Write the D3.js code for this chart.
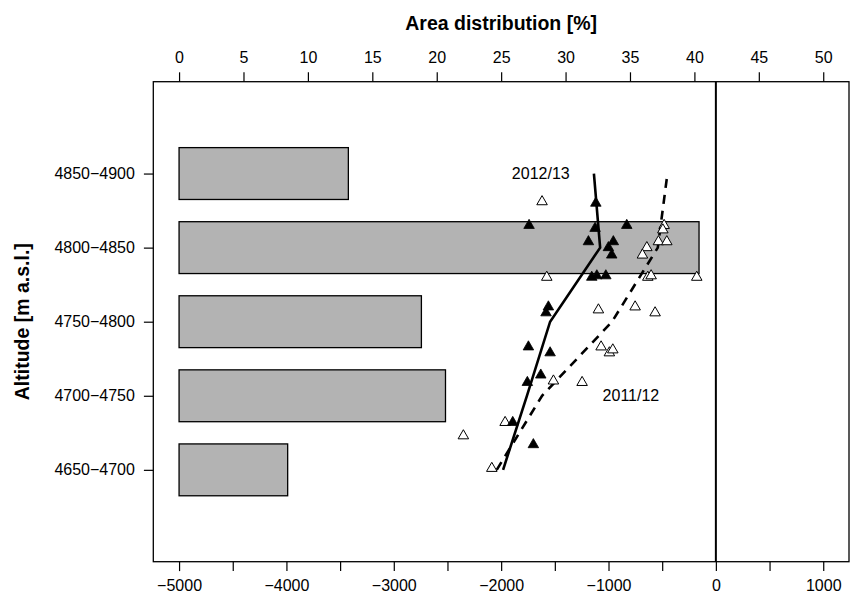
<!DOCTYPE html>
<html>
<head>
<meta charset="utf-8">
<script src="https://cdn.jsdelivr.net/npm/d3@7"></script>
<style>
  html, body { margin: 0; padding: 0; background: #fff; }
  svg { display: block; font-family: "Liberation Sans", Arial, sans-serif; }
</style>
</head>
<body>
<svg id="chart" width="851" height="603"></svg>
<script>
// ---------- data ----------
const bandLabels  = ["4650\u22124700", "4700\u22124750", "4750\u22124800", "4800\u22124850", "4850\u22124900"];
const bandCenters = [4675, 4725, 4775, 4825, 4875];
const areaPct     = [8.43, 20.68, 18.81, 40.36, 13.14];

const pctTicks = [0, 5, 10, 15, 20, 25, 30, 35, 40, 45, 50];
const mbTicks  = [-5000, -4500, -4000, -3500, -3000, -2500, -2000, -1500, -1000, -500, 0, 500, 1000];

// 2012/13 point balances (filled triangles)
const mb1213 = [-1118, -1740, -1125, -830, -1187, -955, -1001, -970, -1156, -1109, -1025,
                -1560, -1582, -1746, -1544, -1631, -1756, -1892, -1700];
const alt1213 = [4855, 4840, 4838, 4840, 4829, 4829, 4825, 4820, 4805, 4806, 4806,
                 4785, 4781, 4758, 4754, 4739, 4734, 4707, 4692];
// 2011/12 point balances (open triangles)
const mb1112 = [-1619, -1575, -482, -494, -535, -457, -643, -684, -634, -603, -178,
                -752, -1094, -566, -1069, -992, -960, -1513, -1246, -1963, -2352, -2087];
const alt1112 = [4856, 4805, 4840, 4837, 4829, 4829, 4825, 4820, 4805, 4806, 4805,
                 4785, 4783, 4781, 4758, 4754, 4756, 4735, 4734, 4707, 4698, 4676];

// band-mean balance profiles
const profile1213 = [-1982, -1760, -1544, -1078, -1136];
const profile1112 = [-2041, -1619, -967, -541, -451];

// ---------- layout ----------
const L = 153.3, R = 849, T = 81.7, B = 561.7;
const svg = d3.select("#chart");

const xPct = d3.scaleLinear().domain([-2, 52]).range([L, R]);
const xMb  = d3.scaleLinear().domain([-5240, 1240]).range([L, R]);
const y    = d3.scaleLinear().domain([4613, 4937]).range([B, T]);
const bandH = y(4600) - y(4635); // 0.7 of a 50 m band

// bars
svg.append("g").selectAll("rect")
  .data(areaPct)
  .join("rect")
  .attr("x", xPct(0))
  .attr("y", (d, i) => y(bandCenters[i]) - bandH / 2)
  .attr("width", d => xPct(d) - xPct(0))
  .attr("height", bandH)
  .attr("fill", "#b3b3b3")
  .attr("stroke", "#000")
  .attr("stroke-width", 1.3);

// zero line
svg.append("line")
  .attr("x1", xMb(0)).attr("x2", xMb(0))
  .attr("y1", T).attr("y2", B)
  .attr("stroke", "#000").attr("stroke-width", 2);

// profiles
const line = d3.line().x(d => xMb(d[0])).y(d => y(d[1]));
svg.append("path")
  .datum(profile1213.map((v, i) => [v, bandCenters[i]]))
  .attr("d", line).attr("fill", "none").attr("stroke", "#000").attr("stroke-width", 2.6);
svg.append("path")
  .datum(profile1112.map((v, i) => [v, bandCenters[i]]))
  .attr("d", line).attr("fill", "none").attr("stroke", "#000").attr("stroke-width", 2.6)
  .attr("stroke-dasharray", "9,7");

// triangles
const tri = d3.symbol().type(d3.symbolTriangle).size(48);
svg.append("g").selectAll("path")
  .data(mb1112.map((v, i) => [v, alt1112[i]]))
  .join("path")
  .attr("d", tri)
  .attr("transform", d => `translate(${xMb(d[0])},${y(d[1])})`)
  .attr("fill", "#fff").attr("stroke", "#000").attr("stroke-width", 1);
svg.append("g").selectAll("path")
  .data(mb1213.map((v, i) => [v, alt1213[i]]))
  .join("path")
  .attr("d", tri)
  .attr("transform", d => `translate(${xMb(d[0])},${y(d[1])})`)
  .attr("fill", "#000").attr("stroke", "#000").attr("stroke-width", 0.8);

// labels
svg.append("text").attr("x", xMb(-1631)).attr("y", y(4875)).attr("dy", "0.35em")
  .attr("text-anchor", "middle").attr("font-size", 16).text("2012/13");
svg.append("text").attr("x", xMb(-791)).attr("y", y(4725)).attr("dy", "0.35em")
  .attr("text-anchor", "middle").attr("font-size", 16).text("2011/12");

// box
svg.append("rect").attr("x", L).attr("y", T).attr("width", R - L).attr("height", B - T)
  .attr("fill", "none").attr("stroke", "#000").attr("stroke-width", 1.3);

// axes
const fmt = d => d < 0 ? "\u2212" + Math.abs(d) : String(d);

const gTop = svg.append("g").attr("transform", `translate(0,${T})`)
  .call(d3.axisTop(xPct).tickValues(pctTicks).tickSize(9.4).tickPadding(9.6).tickFormat(d => String(d)));
const gBot = svg.append("g").attr("transform", `translate(0,${B})`)
  .call(d3.axisBottom(xMb).tickValues(mbTicks).tickSize(9.4).tickPadding(8.5)
        .tickFormat(d => (d % 1000 === 0) ? fmt(d) : ""));
const gLeft = svg.append("g").attr("transform", `translate(${L},0)`)
  .call(d3.axisLeft(y).tickValues(bandCenters).tickSize(9.4).tickPadding(9)
        .tickFormat((d, i) => bandLabels[i]));

[gTop, gBot, gLeft].forEach(g => {
  g.select(".domain").remove();
  g.selectAll("line").attr("stroke", "#000").attr("stroke-width", 1.2);
  g.selectAll("text").attr("font-size", 16).attr("fill", "#000")
    .attr("font-family", "'Liberation Sans', Arial, sans-serif");
});

// axis titles
svg.append("text").attr("x", (L + R) / 2).attr("y", 30)
  .attr("text-anchor", "middle").attr("font-size", 19.5).attr("font-weight", "bold")
  .text("Area distribution [%]");
svg.append("text").attr("transform", `translate(28.5,${(T + B) / 2}) rotate(-90)`)
  .attr("text-anchor", "middle").attr("font-size", 19.5).attr("font-weight", "bold")
  .text("Altitude [m a.s.l.]");
</script>
</body>
</html>
